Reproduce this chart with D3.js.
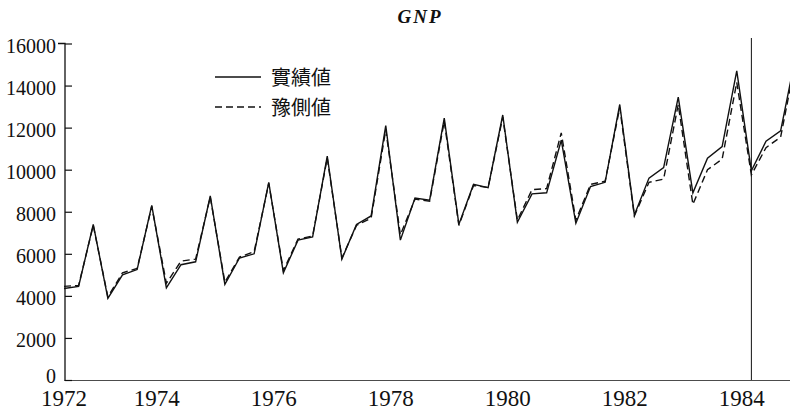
<!DOCTYPE html>
<html>
<head>
<meta charset="utf-8">
<script src="https://cdn.jsdelivr.net/npm/d3@7"></script>
<style>
  html, body { margin: 0; padding: 0; background: #fff; }
  svg { display: block; }
</style>
</head>
<body>
<svg id="chart" width="790" height="413"></svg>
<script>
// Quarterly GNP, April–June 1972 through October–December 1984
const firstQuarterStart = 1972.25;          // April 1972
const actual = [4350, 4450, 7400, 3880, 5000, 5250, 8300, 4380, 5480, 5620,
                8750, 4550, 5800, 6000, 9400, 5100, 6650, 6800, 10650, 5750,
                7400, 7800, 12100, 6650, 8650, 8550, 12450, 7400, 9300, 9150,
                12600, 7500, 8850, 8900, 11400, 7450, 9200, 9400, 13100, 7850,
                9600, 10100, 13450, 8900, 10550, 11100, 14700, 9950, 11350, 11850,
                15300];
const forecast = [4450, 4500, 7350, 3950, 5100, 5300, 8250, 4600, 5650, 5750,
                  8700, 4650, 5850, 6100, 9350, 5200, 6700, 6850, 10550, 5800,
                  7350, 7700, 11900, 6900, 8600, 8500, 12300, 7350, 9250, 9150,
                  12500, 7600, 9050, 9100, 11750, 7600, 9300, 9450, 12950, 7800,
                  9400, 9550, 13100, 8350, 10000, 10500, 14150, 9750, 11050, 11550,
                  15100];
const yearLabels = [1972, 1974, 1976, 1978, 1980, 1982, 1984];
const yTicks = [0, 2000, 4000, 6000, 8000, 10000, 12000, 14000, 16000];
const forecastFromIndex = 47;                // January–March 1984
const seriesNames = ["實績値", "豫側値"];

const SERIF = '"Liberation Serif", "Times New Roman", "DejaVu Serif", serif';
const CJK = '"Noto Sans CJK JP", "Noto Sans CJK SC", sans-serif';

// each quarter is plotted at the start of its last month
const timeOf = i => firstQuarterStart + i * 0.25 + 2 / 12;
const W = 790, H = 413;
const svg = d3.select("#chart");

const x = d3.scaleLinear()
  .domain([timeOf(0), timeOf(actual.length - 1)])
  .range([64, 64 + 58.5 * (actual.length - 1) / 4]);
const y = d3.scaleLinear().domain([0, 16000]).range([380, 43.5]);

const ink = "#111";

// clip the plot at the right edge of the page
svg.append("defs").append("clipPath").attr("id", "plotClip")
  .append("rect").attr("x", 0).attr("y", 0).attr("width", W).attr("height", H);

// title
svg.append("text")
  .attr("x", 420).attr("y", 23).attr("text-anchor", "middle")
  .attr("font-family", SERIF)
  .attr("font-size", 19).attr("font-weight", "bold").attr("font-style", "italic")
  .attr("letter-spacing", 2).attr("fill", ink)
  .text("GNP");

// y axis (ticks point inward)
const yAxis = d3.axisLeft(y).tickValues(yTicks).tickSize(-7).tickPadding(0)
  .tickFormat(d3.format("d"));
const gy = svg.append("g").attr("transform", "translate(65,0)").call(yAxis)
  .attr("font-family", SERIF).attr("font-size", 20);
gy.select(".domain").attr("stroke", ink).attr("stroke-width", 1.3)
  .attr("d", `M-7,${y(16000)}H0V${y(0)}`);
gy.selectAll(".tick line").attr("stroke", ink).attr("stroke-width", 1.2);
gy.selectAll(".tick text")
  .attr("x", -9).attr("dy", null)
  .attr("y", d => d === 0 ? 2 : 9)
  .attr("fill", ink);

// x axis: quarterly minor ticks, year labels every two years
const minorTimes = d3.range(1, actual.length).map(timeOf);
const xAxis = d3.axisBottom(x).tickValues(minorTimes).tickSize(-5).tickFormat("");
const gx = svg.append("g").attr("transform", `translate(0,${y(0)})`)
  .attr("clip-path", "url(#plotClip)").call(xAxis);
gx.select(".domain").attr("stroke", ink).attr("stroke-width", 1.3)
  .attr("d", `M${x.range()[0]},0H${W}`);
gx.selectAll(".tick line").attr("stroke", ink).attr("stroke-width", 1.1);

// the first year label sits at the axis origin
svg.append("g").attr("font-family", SERIF).attr("font-size", 23)
  .selectAll("text").data(yearLabels).join("text")
  .attr("x", d => x(Math.max(d, x.domain()[0])))
  .attr("y", 406)
  .attr("text-anchor", "middle")
  .attr("fill", ink)
  .text(d => d);

// boundary of the forecast period
svg.append("line")
  .attr("x1", x(timeOf(forecastFromIndex))).attr("x2", x(timeOf(forecastFromIndex)))
  .attr("y1", 38).attr("y2", y(0))
  .attr("stroke", ink).attr("stroke-width", 1);

const line = d3.line().x((d, i) => x(timeOf(i))).y(d => y(d));
const plot = svg.append("g").attr("clip-path", "url(#plotClip)");

plot.append("path").datum(forecast)
  .attr("d", line).attr("fill", "none")
  .attr("stroke", ink).attr("stroke-width", 1.4)
  .attr("stroke-dasharray", "7,4").attr("stroke-linejoin", "miter");

plot.append("path").datum(actual)
  .attr("d", line).attr("fill", "none")
  .attr("stroke", ink).attr("stroke-width", 1.4).attr("stroke-linejoin", "miter");

// legend
const legend = svg.append("g");
const legendRows = [
  { name: seriesNames[0], y: 77, dash: null },
  { name: seriesNames[1], y: 107, dash: "7,4" }
];
legendRows.forEach(r => {
  legend.append("line")
    .attr("x1", 215).attr("x2", 261).attr("y1", r.y).attr("y2", r.y)
    .attr("stroke", ink).attr("stroke-width", 1.4)
    .attr("stroke-dasharray", r.dash);
  legend.append("text")
    .attr("x", 271).attr("y", r.y + 8)
    .attr("font-family", CJK)
    .attr("font-size", 20).attr("fill", ink)
    .text(r.name);
});
</script>
</body>
</html>
